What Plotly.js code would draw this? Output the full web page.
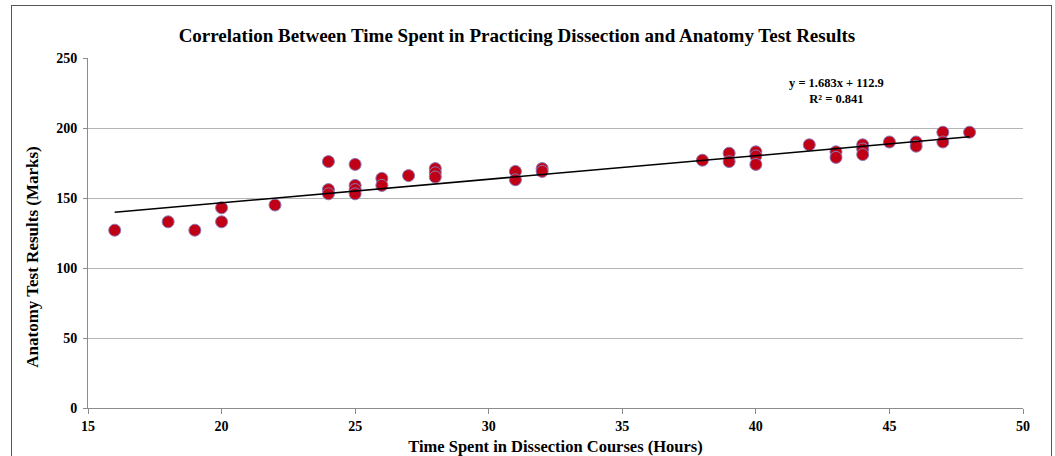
<!DOCTYPE html>
<html>
<head>
<meta charset="utf-8">
<script src="https://cdn.plot.ly/plotly-3.0.1.min.js"></script>
<style>
html,body{margin:0;padding:0;background:#fff;}
#wrap{position:relative;width:1055px;height:456px;overflow:hidden;}
#chart{position:absolute;left:0;top:0;width:1055px;height:456px;}
#frame{position:absolute;left:11px;top:5px;width:1041px;height:470px;border:1.5px solid #555;pointer-events:none;box-sizing:border-box;}
</style>
</head>
<body>
<div id="wrap"><div id="chart"></div><div id="frame"></div></div>
<script>
const hours = [16,18,19,20,20,22,24,24,24,25,25,25,25,26,26,27,28,28,28,31,31,32,32,38,39,39,40,40,40,42,43,43,44,44,44,45,46,46,47,47,48];
const marks = [127,133,127,143,133,145,176,156,153,174,159,156,153,164,159,166,171,168,165,169,163,171,169,177,182,176,183,180,174,188,183,179,188,185,181,190,190,187,197,190,197];
const trendSlope = 1.683;
const trendIntercept = 112.9;
const rSquared = 0.841;
const xTicks = [15,20,25,30,35,40,45,50];
const yTicks = [0,50,100,150,200,250];
const yTitle = 'Anatomy Test Results (Marks)';

const xMin = Math.min(...hours), xMax = Math.max(...hours);
const serif = "Liberation Serif, Times New Roman, serif";

const data = [
  {
    x: hours, y: marks, type: 'scatter', mode: 'markers',
    marker: {size: 12, color: '#C00014', line: {color: '#8A79B8', width: 1}},
    hoverinfo: 'x+y', showlegend: false
  },
  {
    x: [xMin, xMax],
    y: [trendSlope*xMin + trendIntercept, trendSlope*xMax + trendIntercept],
    type: 'scatter', mode: 'lines',
    line: {color: '#000', width: 1.5},
    showlegend: false
  }
];

const layout = {
  width: 1055, height: 456,
  margin: {l: 88, r: 32, t: 58, b: 48},
  paper_bgcolor: 'rgba(0,0,0,0)', plot_bgcolor: '#fff',
  title: {text: 'Correlation Between Time Spent in Practicing Dissection and Anatomy Test Results',
          font: {family: serif, size: 19, color: '#000', weight: 'bold'},
          x: 0.49, xanchor: 'center', y: 0.923, yanchor: 'middle'},
  xaxis: {
    range: [15, 50], tickvals: xTicks, ticktext: xTicks.map(String),
    showgrid: false, zeroline: false,
    showline: true, linecolor: '#8c8c8c', linewidth: 1,
    ticks: 'outside', ticklen: 5, tickcolor: '#8c8c8c',
    tickfont: {family: serif, size: 14, color: '#000', weight: 'bold'},
    title: {text: 'Time Spent in Dissection Courses (Hours)', standoff: 8,
            font: {family: serif, size: 16.5, color: '#000', weight: 'bold'}},
    fixedrange: true
  },
  yaxis: {
    range: [0, 250], tickvals: yTicks, ticktext: yTicks.map(String),
    showgrid: true, gridcolor: '#b4b4b4', gridwidth: 1, zeroline: false,
    showline: true, linecolor: '#8c8c8c', linewidth: 1,
    ticks: 'outside', ticklen: 4, tickcolor: '#8c8c8c', ticklabelstandoff: 3,
    tickfont: {family: serif, size: 14, color: '#000', weight: 'bold'},
    fixedrange: true
  },
  annotations: [
    {
      xref: 'paper', yref: 'paper', x: 0.8, y: 0.905, xanchor: 'center', yanchor: 'middle',
      text: 'y = ' + trendSlope.toFixed(3) + 'x + ' + trendIntercept.toFixed(1) + '<br>R² = ' + rSquared.toFixed(3),
      showarrow: false, align: 'center',
      font: {family: serif, size: 12.5, color: '#000', weight: 'bold'}
    },
    {
      xref: 'paper', yref: 'paper', x: -0.0589, y: 0.432, xanchor: 'center', yanchor: 'middle',
      text: yTitle, textangle: -90, showarrow: false,
      font: {family: serif, size: 17, color: '#000', weight: 'bold'}
    }
  ]
};

Plotly.newPlot('chart', data, layout, {displayModeBar: false, staticPlot: true});
</script>
</body>
</html>
